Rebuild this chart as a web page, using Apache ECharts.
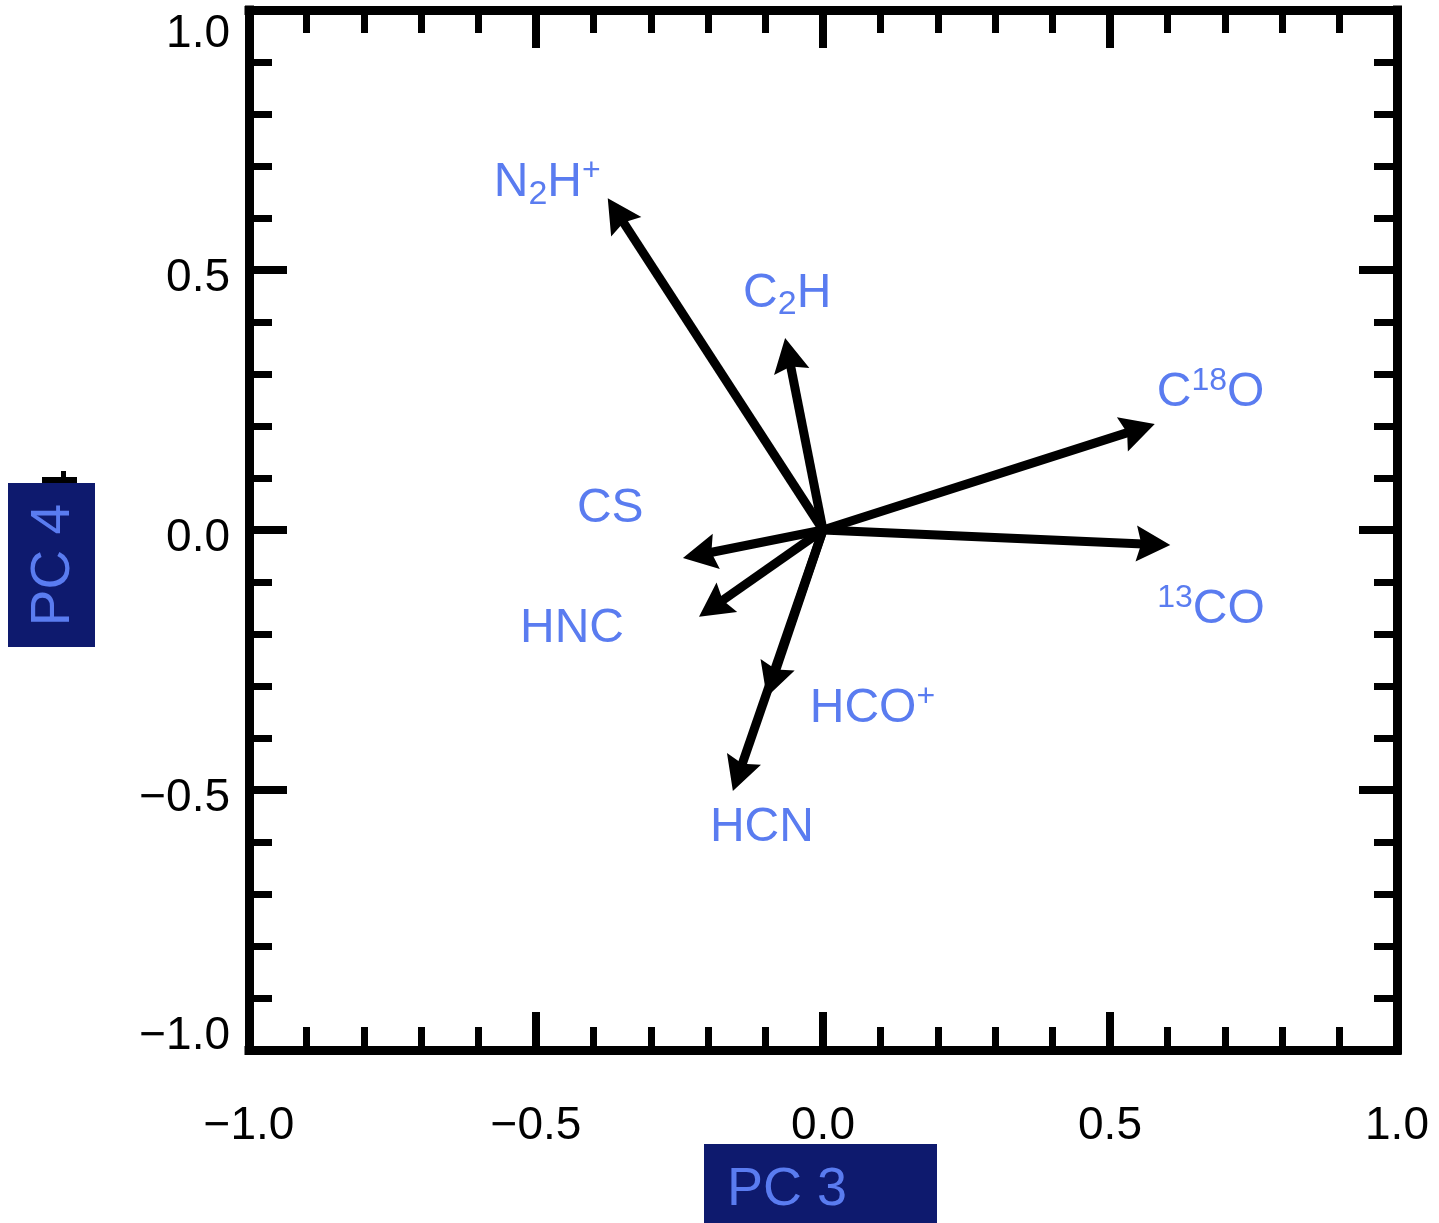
<!DOCTYPE html>
<html>
<head>
<meta charset="utf-8">
<title>PC 3 vs PC 4 loadings</title>
<script src="https://cdn.jsdelivr.net/npm/echarts@6/dist/echarts.min.js"></script>
<style>
  html, body { margin: 0; padding: 0; background: #ffffff; }
  #chart { width: 1439px; height: 1223px; }
</style>
</head>
<body>
<div id="chart"></div>
<script>
// Loadings of each molecular line on principal components 3 and 4
const species = ['N2H+', 'C2H', 'C18O', '13CO', 'CS', 'HNC', 'HCO+', 'HCN'];
const pc3 = [-0.375, -0.066, 0.578, 0.605, -0.244, -0.216, -0.098, -0.157];
const pc4 = [0.638, 0.369, 0.204, -0.029, -0.054, -0.167, -0.321, -0.502];

// Axis tick labels from -1.0 to 1.0 in steps of 0.5
const tickLabels = ['\u22121.0', '\u22120.5', '0.0', '0.5', '1.0'];

// Rich-text markup for the chemical formulas (sub/superscripts)
const formula = {
  'N2H+': '{t|N}{sub|2}{t|H}{sup|+}',
  'C2H': '{t|C}{sub|2}{t|H}',
  'C18O': '{t|C}{sup|18}{t|O}',
  '13CO': '{sup|13}{t|CO}',
  'CS': '{t|CS}',
  'HNC': '{t|HNC}',
  'HCO+': '{t|HCO}{sup|+}',
  'HCN': '{t|HCN}'
};

// Pixel offset of each label (left edge, vertical middle) from its arrow tip
const labelOffset = {
  'N2H+': [-114, -15],
  'C2H': [-42, -44],
  'C18O': [2, -31],
  '13CO': [-13, 65],
  'CS': [-106, -49],
  'HNC': [-179, 12],
  'HCO+': [43, 12],
  'HCN': [-23, 37]
};

const BLUE = '#5a7cf0';
const NAVY = '#0e1a6e';
const FONT = '"Liberation Sans", Arial, sans-serif';

const formulaRich = {
  t: { fontSize: 48, lineHeight: 56, fontFamily: FONT, color: BLUE, fill: BLUE },
  sub: { fontSize: 34, lineHeight: 24, verticalAlign: 'bottom', fontFamily: FONT, color: BLUE, fill: BLUE },
  sup: { fontSize: 32, lineHeight: 40, verticalAlign: 'top', fontFamily: FONT, color: BLUE, fill: BLUE }
};

const tickFont = { fontFamily: FONT, fontSize: 46, color: '#000', lineHeight: 46 };

function tickIndex(v) { return Math.round((v + 1) * 2); }

function axisCommon(position, showLabel, isY) {
  const ax = {
    type: 'value',
    min: -1,
    max: 1,
    interval: 0.5,
    position: position,
    axisLine: { show: true, onZero: false, lineStyle: { color: '#000', width: 9, cap: 'square' } },
    axisTick: { show: true, inside: true, length: 38, lineStyle: { color: '#000', width: 8 } },
    minorTick: { show: true, splitNumber: 5, length: 23, lineStyle: { color: '#000', width: 7 } },
    splitLine: { show: false },
    minorSplitLine: { show: false },
    axisLabel: { show: false }
  };
  if (showLabel && isY) {
    ax.axisLabel = {
      show: true,
      margin: 19,
      formatter: function (v) {
        const i = tickIndex(v);
        const key = i === 4 ? 'hi' : (i === 0 ? 'lo' : 'mid');
        return '{' + key + '|' + tickLabels[i] + '}';
      },
      rich: {
        hi: Object.assign({ padding: [48, 0, 0, 0] }, tickFont),
        mid: Object.assign({ padding: [16, 0, 0, 0] }, tickFont),
        lo: Object.assign({ padding: [0, 0, 28, 0] }, tickFont)
      }
    };
  } else if (showLabel) {
    ax.axisLabel = {
      show: true,
      margin: 53,
      formatter: function (v) { return '{a|' + tickLabels[tickIndex(v)] + '}'; },
      rich: { a: Object.assign({}, tickFont) }
    };
  }
  return ax;
}

function renderArrow(params, api) {
  const i = params.dataIndex;
  const name = species[i];
  const o = api.coord([0, 0]);
  const p = api.coord([api.value(0), api.value(1)]);
  const dx = p[0] - o[0], dy = p[1] - o[1];
  const len = Math.hypot(dx, dy);
  const ux = dx / len, uy = dy / len;
  const nx = -uy, ny = ux;
  const L = 34, W = 18, notch = 29;
  const bx = p[0] - ux * L, by = p[1] - uy * L;
  const head = [
    [p[0], p[1]],
    [bx + nx * W, by + ny * W],
    [p[0] - ux * notch, p[1] - uy * notch],
    [bx - nx * W, by - ny * W]
  ];
  const off = labelOffset[name];
  return {
    type: 'group',
    children: [
      {
        type: 'line',
        shape: { x1: o[0], y1: o[1], x2: p[0] - ux * (notch - 2), y2: p[1] - uy * (notch - 2) },
        style: { stroke: '#000', lineWidth: 9, lineCap: 'butt' }
      },
      {
        type: 'polygon',
        shape: { points: head },
        style: { fill: '#000' }
      },
      {
        type: 'text',
        x: p[0] + off[0],
        y: p[1] + off[1],
        style: {
          text: formula[name],
          rich: formulaRich,
          fill: BLUE,
          fontSize: 48,
          fontFamily: FONT,
          align: 'left',
          verticalAlign: 'middle'
        }
      }
    ]
  };
}

const chart = echarts.init(document.getElementById('chart'), null, { renderer: 'canvas' });

chart.setOption({
  backgroundColor: '#ffffff',
  animation: false,
  grid: { left: 249, right: 42, top: 10, bottom: 173, containLabel: false, outerBoundsMode: 'none' },
  xAxis: [
    axisCommon('bottom', true, false),
    axisCommon('top', false, false)
  ],
  yAxis: [
    axisCommon('left', true, true),
    axisCommon('right', false, true)
  ],
  series: [{
    type: 'custom',
    name: 'loadings',
    xAxisIndex: 0,
    yAxisIndex: 0,
    clip: false,
    renderItem: renderArrow,
    data: pc3.map(function (x, i) { return [x, pc4[i]]; })
  }],
  graphic: [
    // remnant stroke above the y-axis title box
    { type: 'rect', z: 100, shape: { x: 42, y: 477, width: 35, height: 6 }, style: { fill: '#000' } },
    { type: 'rect', z: 100, shape: { x: 61, y: 471, width: 5, height: 12 }, style: { fill: '#000' } },
    // y-axis title
    { type: 'rect', z: 101, shape: { x: 8, y: 483, width: 87, height: 164 }, style: { fill: NAVY } },
    {
      type: 'text', z: 102, x: 54, y: 565, rotation: Math.PI / 2,
      style: { text: 'PC 4', fill: BLUE, fontSize: 55, fontFamily: FONT, align: 'center', verticalAlign: 'middle' }
    },
    // x-axis title
    { type: 'rect', z: 101, shape: { x: 704, y: 1144, width: 233, height: 79 }, style: { fill: NAVY } },
    {
      type: 'text', z: 102, x: 727, y: 1190,
      style: { text: 'PC 3', fill: BLUE, fontSize: 54, fontFamily: FONT, align: 'left', verticalAlign: 'middle' }
    }
  ]
});
</script>
</body>
</html>
